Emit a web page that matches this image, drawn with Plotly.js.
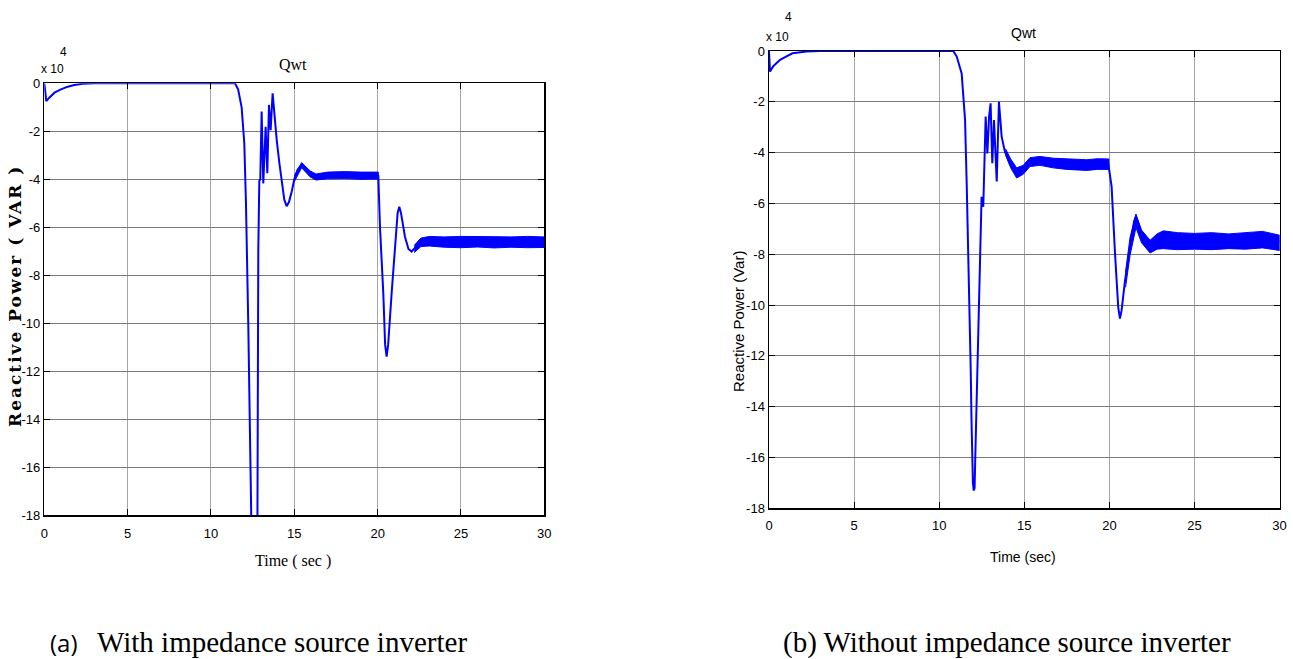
<!DOCTYPE html>
<html>
<head>
<meta charset="utf-8">
<script src="https://cdn.plot.ly/plotly-3.0.1.min.js"></script>
<style>
  html, body { margin: 0; padding: 0; background: #ffffff; }
  #chart { width: 1293px; height: 659px; }
</style>
</head>
<body>
<div id="chart"></div>
<script>
// ---------- data: (a) with impedance source inverter ----------
const tA = [0, 0.12, 0.3, 0.61, 1.0, 1.41, 1.8, 2.3, 3.0, 11.44, 11.63, 11.84, 12.0, 12.1, 12.24, 12.3, 12.32, 12.55, 12.78, 12.8, 12.83, 12.84, 12.9, 12.96, 13.04, 13.14, 13.28, 13.38, 13.48, 13.58, 13.7, 13.82, 13.95, 14.1, 14.25, 14.4, 14.54, 14.68, 14.85, 15.0, 15.2, 15.44, 15.7, 15.95, 16.25, 17.0, 18.0, 19.0, 20.04, 20.14, 20.34, 20.45, 20.54, 20.63, 20.84, 21.04, 21.2, 21.3, 21.4, 21.64, 21.85, 22.04, 22.25, 22.54, 23.14, 24, 26, 28, 30];
const qA = [0, -0.74, -0.6, -0.39, -0.25, -0.14, -0.07, -0.02, 0, 0, -0.25, -1.0, -2.5, -5.0, -10.1, -16.2, -20, -24, -20, -15.9, -12.3, -6.95, -4.07, -4.0, -1.18, -4.17, -1.81, -3.75, -0.9, -1.95, -0.42, -1.5, -2.4, -3.3, -4.2, -4.85, -5.12, -4.95, -4.5, -4.0, -3.6, -3.4, -3.55, -3.78, -3.9, -3.85, -3.83, -3.86, -3.85, -5.97, -8.75, -10.9, -11.39, -10.9, -8.75, -6.67, -5.4, -5.14, -5.4, -6.39, -6.9, -7.01, -6.85, -6.53, -6.45, -6.6, -6.6, -6.6, -6.6];
// ripple envelope (a)
const bandA1_t  = [15.0, 15.44, 15.95, 16.3, 17.0, 18.0, 19.0, 20.04];
const bandA1_hi = [-3.85, -3.3, -3.65, -3.78, -3.7, -3.68, -3.7, -3.7];
const bandA1_lo = [-4.1, -3.52, -3.9, -4.03, -3.98, -3.97, -4.0, -3.99];
const bandA2_t  = [22.2, 22.6, 23.1, 24, 25, 26, 27, 28, 29, 30];
const bandA2_hi = [-6.75, -6.45, -6.38, -6.4, -6.38, -6.4, -6.39, -6.4, -6.38, -6.4];
const bandA2_lo = [-7.05, -6.8, -6.78, -6.83, -6.85, -6.82, -6.86, -6.83, -6.85, -6.84];

// ---------- data: (b) without impedance source inverter ----------
const tB = [0, 0.06, 0.25, 0.65, 1.0, 1.38, 2.2, 3.0, 10.83, 11.03, 11.32, 11.52, 11.62, 11.77, 11.85, 11.9, 11.93, 11.98, 12.03, 12.08, 12.12, 12.17, 12.22, 12.3, 12.4, 12.45, 12.49, 12.59, 12.65, 12.73, 12.83, 12.93, 13.02, 13.12, 13.22, 13.38, 13.51, 13.67, 13.86, 14.16, 14.55, 14.94, 15.33, 15.92, 16.7, 17.5, 18.66, 19.94, 20.13, 20.33, 20.52, 20.62, 20.72, 20.92, 21.21, 21.45, 21.56, 21.68, 21.89, 22.39, 23.17, 23.76, 25, 27, 30];
const qB = [0, -0.81, -0.6, -0.35, -0.22, -0.09, -0.02, 0, 0, -0.22, -0.88, -2.72, -5.34, -9.28, -12.5, -14.6, -16.1, -17.0, -17.3, -17.2, -16.0, -14.7, -13.4, -11.0, -7.97, -6.92, -5.74, -6.13, -4.69, -2.58, -4.03, -2.58, -2.06, -4.42, -2.72, -5.14, -2.0, -3.37, -3.96, -4.42, -4.82, -4.68, -4.36, -4.3, -4.42, -4.45, -4.48, -4.46, -5.34, -7.97, -10.1, -10.53, -10.2, -9.02, -7.7, -6.7, -6.52, -6.75, -7.31, -7.7, -7.31, -7.44, -7.48, -7.45, -7.5];
// ripple envelope (b)
const bandB1_t  = [13.9, 14.2, 14.55, 14.94, 15.33, 15.92, 16.7, 17.5, 18.66, 19.3, 19.97];
const bandB1_hi = [-3.85, -4.25, -4.6, -4.5, -4.2, -4.15, -4.22, -4.25, -4.28, -4.24, -4.25];
const bandB1_lo = [-4.1, -4.6, -5.0, -4.85, -4.55, -4.5, -4.6, -4.66, -4.7, -4.66, -4.66];
const bandB2_t  = [20.95, 21.21, 21.56, 21.89, 22.39, 22.8, 23.17, 24, 25, 26, 27, 28, 29, 30];
const bandB2_hi = [-8.7, -7.35, -6.42, -7.05, -7.45, -7.2, -7.08, -7.15, -7.18, -7.15, -7.2, -7.15, -7.1, -7.25];
const bandB2_lo = [-9.3, -8.05, -6.95, -7.55, -7.95, -7.8, -7.78, -7.82, -7.8, -7.82, -7.78, -7.8, -7.75, -7.85];

// ---------- ticks ----------
const xTickVals = [0, 5, 10, 15, 20, 25, 30];
const xTickText = ['0', '5', '10', '15', '20', '25', '30'];
const yTickVals = [0, -2, -4, -6, -8, -10, -12, -14, -16, -18];
const yTickText = ['0', '-2', '-4', '-6', '-8', '-10', '-12', '-14', '-16', '-18'];

// ---------- texts ----------
const titleA = 'Qwt', titleB = 'Qwt';
const xTitleA = 'Time ( sec )', xTitleB = 'Time (sec)';
const yTitleA = 'Reactive Power ( VAR )', yTitleB = 'Reactive Power (Var)';
const capA1 = '(a)', capA2 = 'With impedance source inverter';
const capB = '(b) Without impedance source inverter';

// ---------- build ----------
const W = 1293, H = 659;
const px = x => x / W;
const py = y => 1 - y / H;
const BLUE = '#0000ff';
const TICKF = '"Liberation Sans", Arial, sans-serif';
const SERIF = '"Liberation Serif", "Times New Roman", serif';
const SANS = '"Liberation Sans", Arial, sans-serif';

function band(t, hi, lo, xa, ya) {
  return {
    x: t.concat(t.slice().reverse()),
    y: hi.concat(lo.slice().reverse()),
    xaxis: xa, yaxis: ya, type: 'scatter', mode: 'lines',
    fill: 'toself', fillcolor: BLUE,
    line: {color: BLUE, width: 1}, hoverinfo: 'skip', showlegend: false
  };
}

const traces = [
  {x: tA, y: qA, xaxis: 'x', yaxis: 'y', type: 'scatter', mode: 'lines',
   line: {color: BLUE, width: 2}, showlegend: false},
  band(bandA1_t, bandA1_hi, bandA1_lo, 'x', 'y'),
  band(bandA2_t, bandA2_hi, bandA2_lo, 'x', 'y'),
  {x: tB, y: qB, xaxis: 'x2', yaxis: 'y2', type: 'scatter', mode: 'lines',
   line: {color: BLUE, width: 2}, showlegend: false},
  band(bandB1_t, bandB1_hi, bandB1_lo, 'x2', 'y2'),
  band(bandB2_t, bandB2_hi, bandB2_lo, 'x2', 'y2')
];

function xAxis(dom, anchor, standoff) {
  return {
    domain: dom, anchor: anchor, range: [0, 30],
    tickmode: 'array', tickvals: xTickVals, ticktext: xTickText,
    ticks: 'inside', ticklen: 6, tickwidth: 1, tickcolor: '#000',
    ticklabelstandoff: standoff,
    showline: true, linecolor: '#000', linewidth: 1.5, mirror: 'ticks',
    showgrid: true, gridcolor: '#a6a6a6', gridwidth: 1, zeroline: false,
    tickfont: {family: TICKF, size: 13, color: '#000'}, fixedrange: true
  };
}
function yAxis(dom, anchor) {
  return {
    domain: dom, anchor: anchor, range: [-18, 0],
    tickmode: 'array', tickvals: yTickVals, ticktext: yTickText,
    ticks: 'inside', ticklen: 6, tickwidth: 1, tickcolor: '#000',
    showline: true, linecolor: '#000', linewidth: 1.5, mirror: 'ticks',
    showgrid: true, gridcolor: '#7a7a7a', gridwidth: 1, zeroline: false,
    tickfont: {family: TICKF, size: 13, color: '#000'}, fixedrange: true
  };
}

function ann(text, x, y, font, extra) {
  return Object.assign({
    text: text, xref: 'paper', yref: 'paper', x: px(x), y: py(y),
    xanchor: 'center', yanchor: 'middle', showarrow: false, font: font
  }, extra || {});
}

const annotations = [
  ann(titleA, 293, 64, {family: SERIF, size: 16, color: '#000'}),
  ann(titleB, 1023, 33, {family: SANS, size: 14, color: '#000'}),
  ann('x 10', 52.5, 69, {family: SANS, size: 12, color: '#000'}),
  ann('4', 63, 52, {family: SANS, size: 12, color: '#000'}),
  ann('x 10', 777, 37, {family: SANS, size: 12, color: '#000'}),
  ann('4', 788, 17, {family: SANS, size: 12, color: '#000'}),
  ann(xTitleA, 293, 561, {family: SERIF, size: 16, color: '#000'}),
  ann(xTitleB, 1023, 557, {family: SANS, size: 14, color: '#000'}),
  ann(yTitleA, 15, 296, {family: '"DejaVu Serif", serif', size: 17, color: '#000', weight: 'bold'}, {textangle: -90}),
  ann(yTitleB, 738, 321, {family: SANS, size: 15, color: '#000'}, {textangle: -90}),
  ann(capA1, 48, 642, {family: '"Open Sans", "Noto Sans", sans-serif', size: 24, color: '#000'}, {xanchor: 'left'}),
  ann(capA2, 95, 642, {family: SERIF, size: 29, color: '#000'}, {xanchor: 'left'}),
  ann(capB, 781, 642, {family: SERIF, size: 29, color: '#000'}, {xanchor: 'left'})
];

const layout = {
  width: W, height: H,
  margin: {l: 0, r: 0, t: 0, b: 0, pad: 0},
  paper_bgcolor: '#ffffff', plot_bgcolor: '#ffffff',
  showlegend: false,
  xaxis: xAxis([px(44.3), px(544.3)], 'y', 6),
  yaxis: yAxis([py(515.3), py(83.3)], 'x'),
  xaxis2: xAxis([px(769), px(1279.6)], 'y2', 5),
  yaxis2: yAxis([py(508.3), py(51)], 'x2'),
  annotations: annotations
};

Plotly.newPlot('chart', traces, layout, {staticPlot: true, displayModeBar: false}).then(function () {
  // widen the letter spacing of the left axis label to match the reference
  document.querySelectorAll('.annotation-text').forEach(function (el) {
    if (el.textContent === yTitleA) el.style.letterSpacing = '2px';
  });
});
</script>
</body>
</html>
